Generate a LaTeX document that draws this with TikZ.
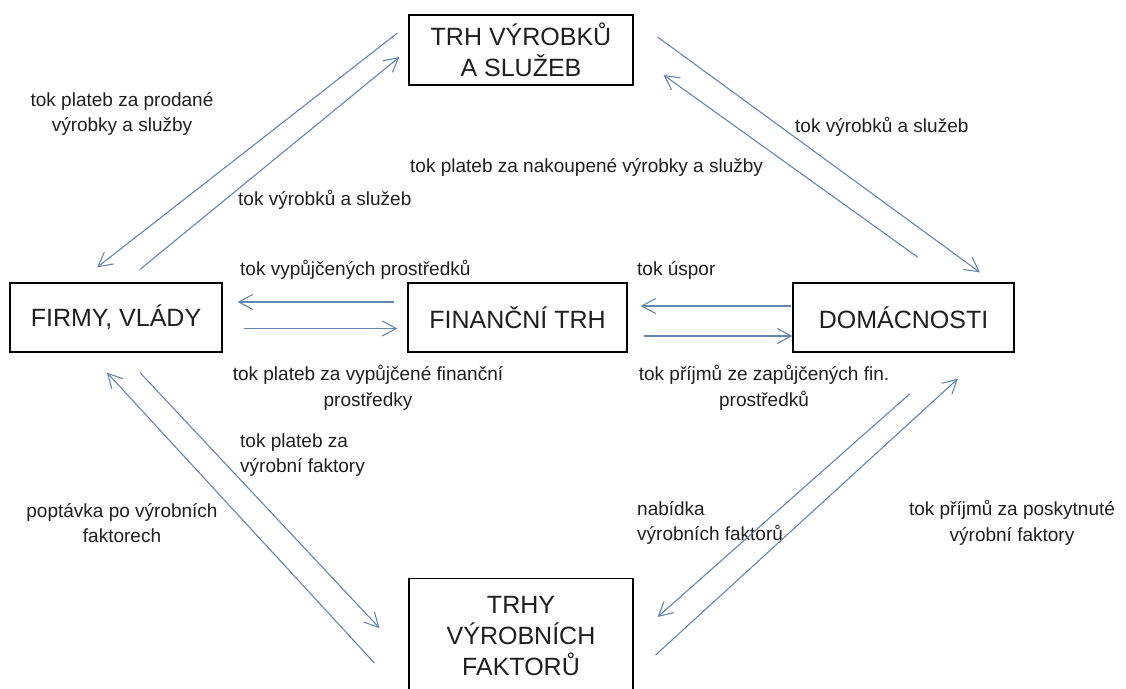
\documentclass[tikz,border=0pt]{standalone}
\usepackage{fontspec}
\setmainfont{Liberation Sans}
\usetikzlibrary{arrows.meta}
\definecolor{flowblue}{RGB}{100,135,175}
\definecolor{inkgray}{RGB}{30,30,30}

\begin{document}
\begin{tikzpicture}
  [x=1pt,y=-1pt,
   market/.style={draw=black,line width=1.2pt,inner sep=0pt,align=center,text=inkgray,
     font=\fontsize{25}{31}\selectfont},
   flow/.style={draw=flowblue,line width=1.1pt,-{Straight Barb[length=14pt,width=15pt]}},
   lab/.style={text=inkgray,inner sep=0pt,font=\fontsize{19}{25.5}\selectfont}]
  \useasboundingbox (0,0) rectangle (1126,688);

  \node[market,minimum width=224pt,minimum height=70pt] (vyrobky) at (521,50) {TRH VÝROBKŮ\\A SLUŽEB};
  \node[market,minimum width=212pt,minimum height=69pt] (firmy) at (116,317.5) {FIRMY, VLÁDY};
  \node[market,minimum width=219pt,minimum height=69pt] (financni) at (517.5,317.5) {FINANČNÍ TRH};
  \node[market,minimum width=221pt,minimum height=69pt] (domacnosti) at (903.5,317.5) {DOMÁCNOSTI};
  \node[market,minimum width=224pt,inner ysep=18pt,anchor=north] (faktory) at (521,578) {TRHY\\VÝROBNÍCH\\FAKTORŮ};

  \node[lab,align=center] (l1) at (122,114) {tok plateb za prodané\\výrobky a služby};
  \node[lab,anchor=west] (l2) at (238,200) {tok výrobků a služeb};
  \node[lab,anchor=west] (l3) at (410,167) {tok plateb za nakoupené výrobky a služby};
  \node[lab,anchor=west] (l4) at (795,127) {tok výrobků a služeb};
  \node[lab,anchor=west] (l5) at (240,270) {tok vypůjčených prostředků};
  \node[lab,anchor=west] (l6) at (637,270) {tok úspor};
  \node[lab,align=center] (l7) at (368,388) {tok plateb za vypůjčené finanční\\prostředky};
  \node[lab,align=center] (l8) at (764,388) {tok příjmů ze zapůjčených fin.\\prostředků};
  \node[lab,align=left,anchor=west] (l9) at (240,455) {tok plateb za\\výrobní faktory};
  \node[lab,align=center] (l10) at (122,523) {poptávka po výrobních\\faktorech};
  \node[lab,align=left,anchor=west] (l11) at (637,523) {nabídka\\výrobních faktorů};
  \node[lab,align=center] (l12) at (1012,523) {tok příjmů za poskytnuté\\výrobní faktory};

  % market for goods
  \draw[flow] ([shift={(-11,-17)}]vyrobky.west) -- ([shift={(-19,-15)}]firmy.north);
  \draw[flow] ([shift={(24,-13)}]firmy.north) -- ([shift={(-9,7)}]vyrobky.west);
  \draw[flow] ([shift={(24,-13)}]vyrobky.east) -- ([shift={(76.5,-10)}]domacnosti.north);
  \draw[flow] ([shift={(14.5,-25)}]domacnosti.north) -- ([shift={(30,25)}]vyrobky.east);

  % financial market
  \draw[flow] ([shift={(-13,-15.5)}]financni.west) -- ([shift={(15,-15.5)}]firmy.east);
  \draw[flow] ([shift={(21,11)}]firmy.east) -- ([shift={(-10,11)}]financni.west);
  \draw[flow] ([shift={(-1,-11.5)}]domacnosti.west) -- ([shift={(13,-11.5)}]financni.east);
  \draw[flow] ([shift={(16,18.5)}]financni.east) -- ([shift={(0,18.5)}]domacnosti.west);

  % factor markets
  \draw[flow] ([shift={(-34,85)}]faktory.north west) -- ([shift={(-9,20)}]firmy.south);
  \draw[flow] ([shift={(24,20)}]firmy.south) -- ([shift={(-29,50)}]faktory.north west);
  \draw[flow] ([shift={(6.5,41)}]domacnosti.south) -- ([shift={(24,39)}]faktory.north east);
  \draw[flow] ([shift={(22,77)}]faktory.north east) -- ([shift={(54.5,26)}]domacnosti.south);
\end{tikzpicture}
\end{document}
